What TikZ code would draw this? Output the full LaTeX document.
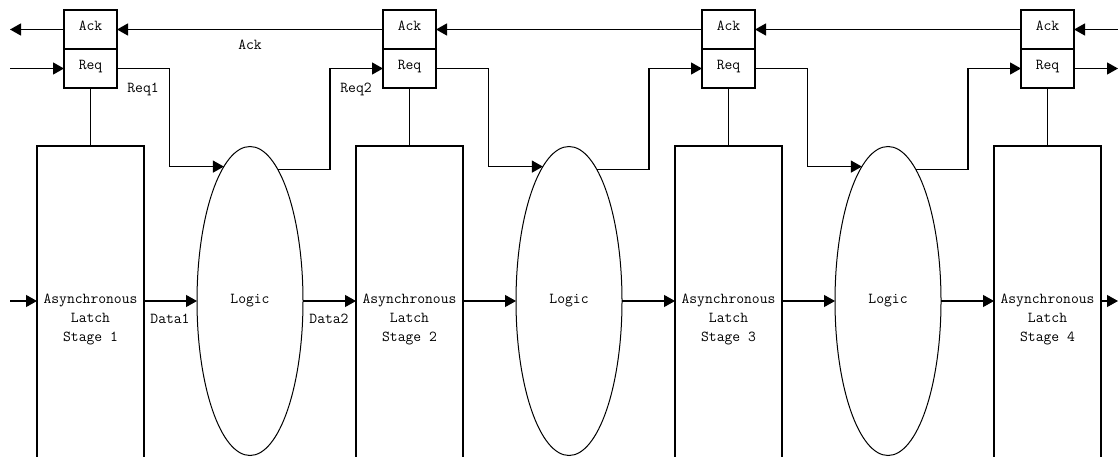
\documentclass[tikz,border=0pt]{standalone}
\usetikzlibrary{positioning, arrows.meta, shapes.geometric}

\begin{document}
\begin{tikzpicture}[x=1pt, y=-1pt, line width=1.2pt,
  font=\ttfamily\fontsize{15.2}{19}\selectfont,
  >={Triangle[length=11pt,width=12pt]},
  hsbox/.style={draw, rectangle, minimum width=53pt, minimum height=39pt, inner sep=0pt, outer sep=0pt, text height=10pt, text depth=7pt},
  latchbox/.style={draw, rectangle, minimum width=107pt, minimum height=334pt, inner sep=0pt, outer sep=0pt, anchor=north},
  logicblob/.style={draw, ellipse, minimum width=106pt, minimum height=309pt, inner sep=0pt, outer sep=0pt, line width=1pt, text height=11pt, text depth=7pt},
  lbl/.style={anchor=base, inner sep=0pt}]
  \useasboundingbox (0,0) rectangle (1118,457);
  \clip (0,0) rectangle (1118,457);
  % latch stages with handshake boxes
  \foreach \i/\x in {1/90.5, 2/409.5, 3/728.5, 4/1047.5} {
    \node[hsbox] (ack\i) at (\x,29.5) {Ack};
    \node[hsbox] (req\i) at (\x,68.5) {Req};
    \node[latchbox] (latch\i) at (\x,146) {};
    \node[lbl, align=center] (stage\i) at (\x,341) {Asynchronous\\Latch\\Stage \i};
    \draw (req\i) -- (latch\i);
  }
  % logic between stages
  \foreach \j/\x in {1/250, 2/569, 3/888}
    \node[logicblob] (logic\j) at (\x,301) {Logic};
  % free ends at the borders
  \coordinate (ackL) at (10,29.5);
  \coordinate (ackR) at (1118,29.5);
  \coordinate (reqL) at (10,68.5);
  \coordinate (reqR) at (1118,68.5);
  \coordinate (datL) at (10,301);
  \coordinate (datR) at (1118,301);
  % handshake and data lines
  \draw[->] (ack1.west) -- (ackL);
  \draw[->] (ackR) -- (ack4.east);
  \draw[->] (reqL) -- (req1.west);
  \draw[->] (req4.east) -- (reqR);
  \draw[->] (datL) -- (datL -| latch1.west);
  \draw[->] (datR -| latch4.east) -- (datR);
  \foreach \i/\j in {1/2, 2/3, 3/4} {
    \draw[->] (ack\j.west) -- (ack\i.east);
    \draw[->] (req\i.east) -- ++(52.5,0) |- (logic\i.101.3);
    \draw[->] (logic\i.78.7) -- ++(52,0) |- (req\j.west);
    \draw[->] (latch\i.east |- logic\i.west) -- (logic\i.west);
    \draw[->] (logic\i.east) -- (logic\i.east -| latch\j.west);
  }
  \node[lbl] (ackname) at (250,50) {Ack};
  \node[lbl] (req1name) at (143,93) {Req1};
  \node[lbl] (req2name) at (356,93) {Req2};
  \node[lbl] (data1name) at (170,323) {Data1};
  \node[lbl] (data2name) at (329,323) {Data2};
\end{tikzpicture}
\end{document}
